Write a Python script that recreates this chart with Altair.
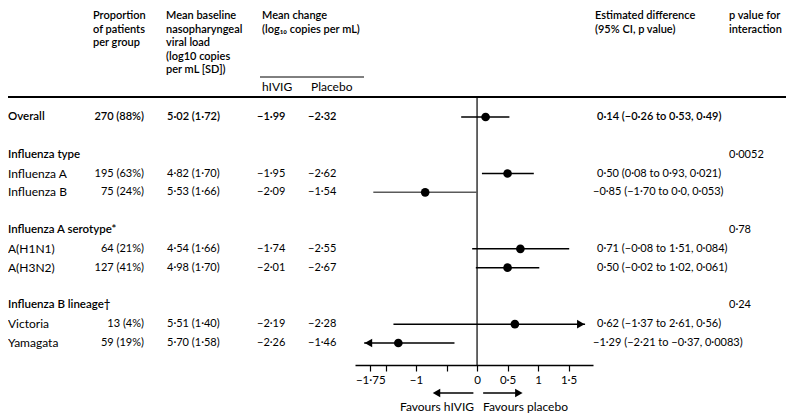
import altair as alt
import pandas as pd

# ---------------- data ----------------
row_labels = ["Overall", "Influenza type", "Influenza A", "Influenza B",
              "Influenza A serotype*", "A(H1N1)", "A(H3N2)",
              "Influenza B lineage\u2020", "Victoria", "Yamagata"]
row_index = [0, 2, 3, 4, 6, 7, 8, 10, 11, 12]
row_bold = [True, True, False, False, True, False, False, True, False, False]
proportion = ["270 (88%)", "", "195 (63%)", "75 (24%)", "", "64 (21%)", "127 (41%)", "", "13 (4%)", "59 (19%)"]
baseline_load = ["5·02 (1·72)", "", "4·82 (1·70)", "5·53 (1·66)", "", "4·54 (1·66)", "4·98 (1·70)", "", "5·51 (1·40)", "5·70 (1·58)"]
change_hivig = ["−1·99", "", "−1·95", "−2·09", "", "−1·74", "−2·01", "", "−2·19", "−2·26"]
change_placebo = ["−2·32", "", "−2·62", "−1·54", "", "−2·55", "−2·67", "", "−2·28", "−1·46"]
p_interaction = ["", "0·0052", "", "", "0·78", "", "", "0·24", "", ""]

est_rows = [0, 3, 4, 7, 8, 11, 12]
est_values = [0.14, 0.50, -0.85, 0.71, 0.50, 0.62, -1.29]
ci_low = [-0.26, 0.08, -1.70, -0.08, -0.02, -1.37, -2.21]
ci_high = [0.53, 0.93, 0.0, 1.51, 1.02, 2.61, -0.37]
est_text = ["0·14 (−0·26 to 0·53, 0·49)", "0·50 (0·08 to 0·93, 0·021)",
            "−0·85 (−1·70 to 0·0, 0·053)", "0·71 (−0·08 to 1·51, 0·084)",
            "0·50 (−0·02 to 1·02, 0·061)", "0·62 (−1·37 to 2·61, 0·56)",
            "−1·29 (−2·21 to −0·37, 0·0083)"]
est_bold = [True, False, False, False, False, False, False]
axis_ticks = [-1.75, -1.5, -1, -0.5, 0, 0.5, 1, 1.5]

# ---------------- layout / style ----------------
FONT = "Lato"
FL = 12          # row labels (regular)
FN = 11          # numbers
FB = 11.5        # bold row headings
FH = 11          # column headers
BW = 600
W = 778
PLOT_H = 357
TOTAL_H = 406
CLIP_MIN, CLIP_MAX = -1.85, 1.77
HEAD = 0.07
P_X = 721

table = pd.DataFrame(dict(label=row_labels, row=row_index, bold=row_bold, prop=proportion,
                          base=baseline_load, hivig=change_hivig, placebo=change_placebo,
                          p=p_interaction))
forest = pd.DataFrame(dict(row=est_rows, est=est_values, lo=ci_low, hi=ci_high,
                           text=est_text, bold=est_bold))
forest["neg"] = forest["text"].str.startswith("−")
forest["lo_c"] = forest["lo"].clip(lower=CLIP_MIN)
forest["hi_c"] = forest["hi"].clip(upper=CLIP_MAX)
forest["col"] = ["#5a5a5a" if (h == 0.0) else "black" for h in forest["hi"]]

arrows = []
for r, l, h in zip(est_rows, ci_low, ci_high):
    if h > CLIP_MAX:
        arrows.append(dict(row=r, ax=CLIP_MAX - HEAD, shape="triangle-right"))
    if l < CLIP_MIN:
        arrows.append(dict(row=r, ax=CLIP_MIN + HEAD, shape="triangle-left"))
arrows = pd.DataFrame(arrows)

favours = pd.DataFrame(dict(x=[-0.06, 0.10], x2=[-0.64, 0.66], tip=[-0.665, 0.685],
                            shape=["triangle-left", "triangle-right"]))
one = pd.DataFrame({"k": [0]})

xscale = alt.Scale(domain=[-2.0, 1.9], range=[347, 585], nice=False, zero=False)
yscale = alt.Scale(domain=[0, 12], range=[109, 335], nice=False, zero=False)
xaxis = alt.Axis(values=axis_ticks, title=None, grid=False,
                 labelExpr="(datum.value == -1.5 || datum.value == -0.5) ? '' : "
                           "replace(replace(format(datum.value, ''), '.', '·'), '-', '−')",
                 domainColor="black", domainWidth=1.3, tickColor="black", tickWidth=1.2,
                 tickSize=6, labelFont=FONT, labelFontSize=FN + 0.5, labelColor="black",
                 labelPadding=3)


def X(field):
    return alt.X(field, type="quantitative", scale=xscale, axis=xaxis)


def XD(v):
    return alt.XDatum(v, type="quantitative", scale=xscale, axis=xaxis)


def Y(field="row"):
    return alt.Y(field, type="quantitative", scale=yscale, axis=None)


def txt(bold=False, size=FN, src=None, **kw):
    base = dict(font=FONT, fontSize=size, fontWeight=BW if bold else "normal",
                color="black", baseline="middle", align="left")
    base.update(kw)
    return alt.Chart(table if src is None else src).mark_text(**base)


layers = []

# horizontal rules
layers.append(alt.Chart(one).mark_rule(color="black", strokeWidth=2).encode(
    x=alt.value(0), x2=alt.value(W), y=alt.value(89)))
layers.append(alt.Chart(one).mark_rule(color="black", strokeWidth=1).encode(
    x=alt.value(252), x2=alt.value(356), y=alt.value(69)))

# zero line
layers.append(alt.Chart(one).mark_rule(color="black", strokeWidth=1.2).encode(
    x=XD(0), y=alt.value(89), y2=alt.value(PLOT_H)))

# CI lines
layers.append(alt.Chart(forest).mark_rule(strokeWidth=1.5).encode(
    x=X("lo_c"), x2=alt.X2("hi_c"), y=Y(),
    color=alt.Color("col:N", scale=None)))
# points
layers.append(alt.Chart(forest).mark_circle(size=75, opacity=1, color="black").encode(
    x=X("est"), y=Y()))
# arrowheads
layers.append(alt.Chart(arrows).mark_point(filled=True, size=75, opacity=1, color="black").encode(
    x=X("ax"), y=Y(), shape=alt.Shape("shape:N", scale=None)))

# favours arrows
layers.append(alt.Chart(favours).mark_rule(color="black", strokeWidth=1.5).encode(
    x=X("x"), x2=alt.X2("x2"), y=alt.value(385)))
layers.append(alt.Chart(favours).mark_point(filled=True, size=75, opacity=1, color="black").encode(
    x=X("tip"), y=alt.value(385), shape=alt.Shape("shape:N", scale=None)))
layers.append(alt.Chart(one).mark_text(font=FONT, fontSize=FL, color="black", align="right",
                                       baseline="middle", dx=-3, text="Favours hIVIG").encode(
    x=XD(0), y=alt.value(399)))
layers.append(alt.Chart(one).mark_text(font=FONT, fontSize=FL, color="black", align="left",
                                       baseline="middle", dx=6, text="Favours placebo").encode(
    x=XD(0), y=alt.value(399)))

# table text columns
for bold_flag in [True, False]:
    flt = alt.datum.bold if bold_flag else ~alt.datum.bold
    layers.append(txt(bold_flag, FB if bold_flag else FL).encode(
        x=alt.value(0), y=Y(), text="label:N").transform_filter(flt))
    layers.append(txt(bold_flag, align="right").encode(x=alt.value(136), y=Y(), text="prop:N").transform_filter(flt))
    layers.append(txt(bold_flag).encode(x=alt.value(159), y=Y(), text="base:N").transform_filter(flt))
    layers.append(txt(bold_flag).encode(x=alt.value(249), y=Y(), text="hivig:N").transform_filter(flt))
    layers.append(txt(bold_flag).encode(x=alt.value(300), y=Y(), text="placebo:N").transform_filter(flt))

layers.append(txt().encode(x=alt.value(P_X), y=Y(), text="p:N"))

for bold_flag in [True, False]:
    for neg, xpos in [(True, 585), (False, 589)]:
        f1 = alt.datum.bold if bold_flag else ~alt.datum.bold
        f2 = alt.datum.neg if neg else ~alt.datum.neg
        layers.append(txt(bold_flag, src=forest).encode(
            x=alt.value(xpos), y=Y(), text="text:N").transform_filter(f1).transform_filter(f2))


# headers
def header(lines, x, y=2):
    return alt.Chart(one).mark_text(font=FONT, fontSize=FH, fontWeight=BW, color="black",
                                    align="left", baseline="top", lineHeight=13.5,
                                    text=lines).encode(x=alt.value(x), y=alt.value(y))


layers.append(header(["Proportion", "of patients", "per group"], 85))
layers.append(header(["Mean baseline", "nasopharyngeal", "viral load", "(log10 copies", "per mL [SD])"], 158))
layers.append(header(["Mean change", "(log\u2081\u2080 copies per mL)"], 254))
layers.append(header(["Estimated difference", "(95% CI, p value)"], 587))
layers.append(header(["p value for", "interaction"], P_X))
layers.append(alt.Chart(one).mark_text(font=FONT, fontSize=FL, color="black", align="left",
                                       baseline="middle", text="hIVIG").encode(
    x=alt.value(254), y=alt.value(79)))
layers.append(alt.Chart(one).mark_text(font=FONT, fontSize=FL, color="black", align="left",
                                       baseline="middle", text="Placebo").encode(
    x=alt.value(303), y=alt.value(79)))

chart = alt.layer(*layers).properties(
    width=W, height=PLOT_H,
    padding={"left": 0, "top": 0, "right": 0, "bottom": TOTAL_H - PLOT_H},
    autosize=alt.AutoSizeParams(type="none"),
    background="white",
).configure_view(stroke=None).configure_axis(grid=False)

chart.save("out.html", embed_options={"renderer": "svg", "actions": False})
